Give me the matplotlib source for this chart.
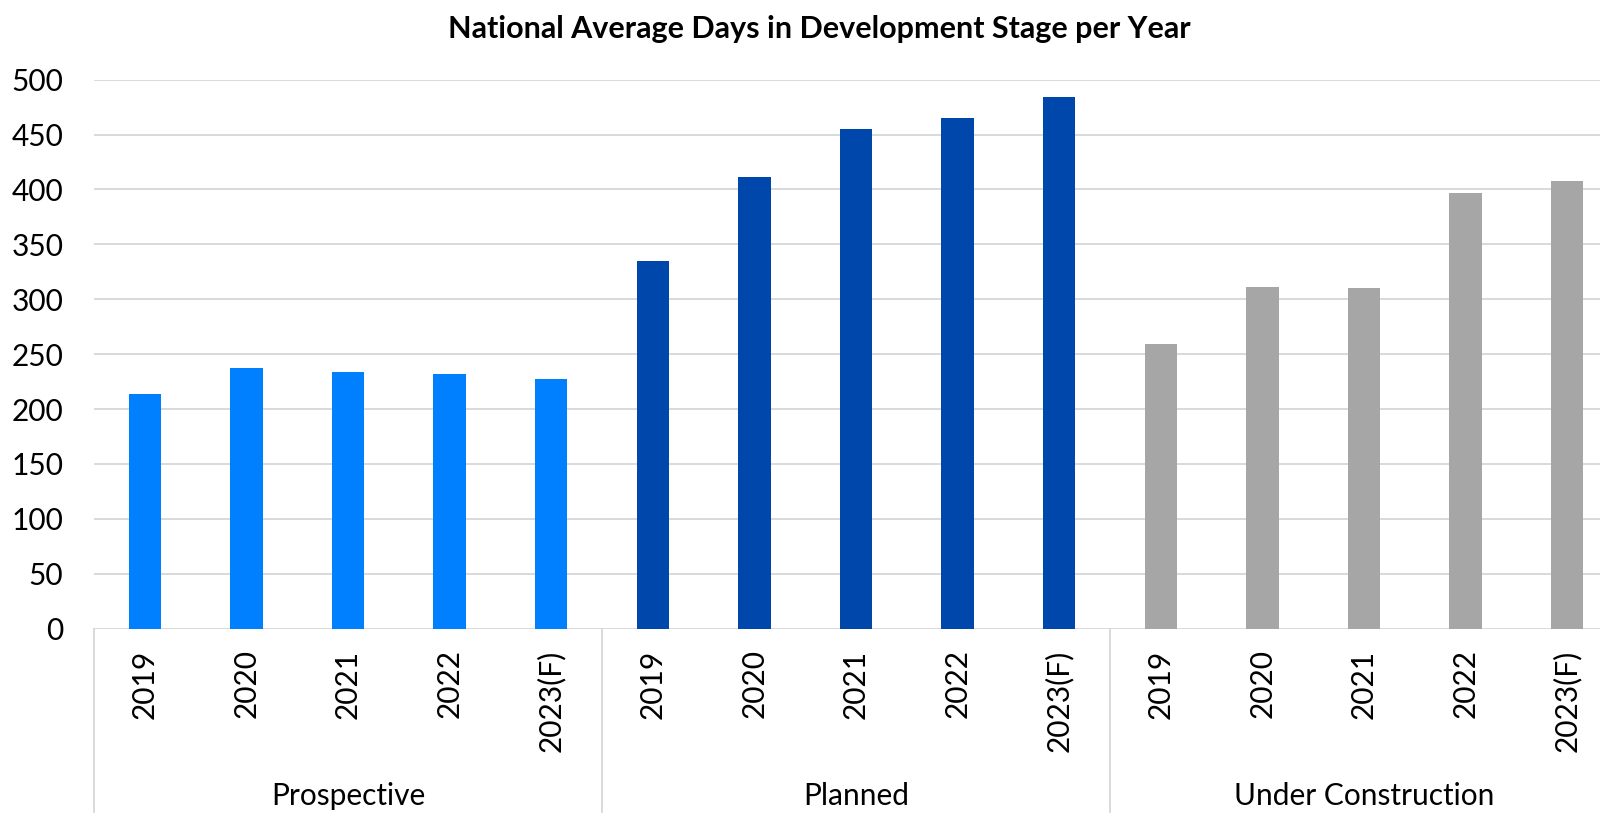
import matplotlib
matplotlib.use("Agg")
import matplotlib.pyplot as plt

plt.rcParams['font.family'] = ['Lato', 'DejaVu Sans']

stages = ["Prospective", "Planned", "Under Construction"]
years = ["2019", "2020", "2021", "2022", "2023(F)"]
prospective = [214, 237, 234, 232, 227]
planned = [335, 411, 455, 465, 484]
under_construction = [259, 311, 310, 397, 408]
stage_colors = ["#0080FF", "#0047AB", "#A6A6A6"]
yticks = [0, 50, 100, 150, 200, 250, 300, 350, 400, 450, 500]

W, H = 1600, 813
fig = plt.figure(figsize=(W / 100, H / 100), dpi=100)
# plot area runs a little past the right edge of the figure
left, right, top, bottom = 94, 1618, 79.6, 628.6
ax = fig.add_axes([left / W, 1 - bottom / H, (right - left) / W, (bottom - top) / H])

grid = "#D9D9D9"
fs = 21.5
series = [prospective, planned, under_construction]
n = len(years)
labels = []
for g, (vals, col) in enumerate(zip(series, stage_colors)):
    xs = [g * n + i for i in range(n)]
    ax.bar(xs, vals, width=0.32, color=col, zorder=3)
    labels += years

ax.set_xlim(-0.5, len(series) * n - 0.5)
ax.set_ylim(0, 500)
ax.set_yticks(yticks)
ax.set_xticks(range(len(series) * n))
ax.set_xticklabels(labels, rotation=90, fontsize=fs, color="#000000")
ax.tick_params(axis="x", length=0, pad=15)
ax.tick_params(axis="y", length=0, pad=22, labelsize=fs, labelcolor="#000000")
for y in yticks:
    ax.axhline(y, color=grid, lw=1.4, zorder=1)
for s in ax.spines.values():
    s.set_visible(False)

# group separators below the axis and group names
tr = ax.get_xaxis_transform()
for k in range(len(series) + 1):
    x = k * n - 0.5
    ax.plot([x, x], [0, -0.5], color=grid, lw=1.4, transform=tr, clip_on=False)
for g, name in enumerate(stages):
    ax.text(g * n + (n - 1) / 2, 1 - 796 / H, name, fontsize=fs, ha="center", va="center",
            transform=matplotlib.transforms.blended_transform_factory(ax.transData, fig.transFigure))

fig.text(819 / W, 1 - 29 / H, "National Average Days in Development Stage per Year",
         fontsize=22, fontweight="bold", ha="center", va="center")

fig.savefig("out.png", dpi=100)
